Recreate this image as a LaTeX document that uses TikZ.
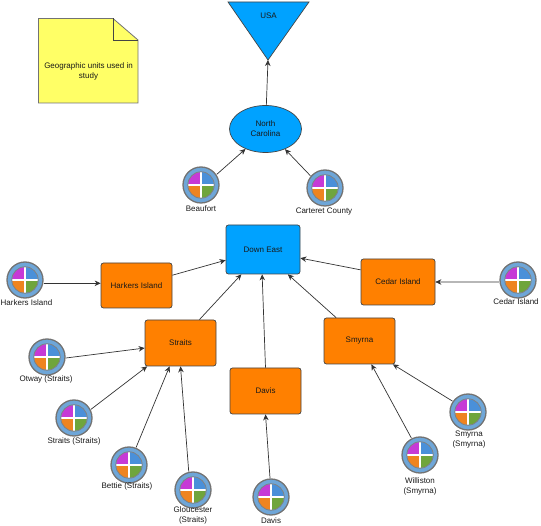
\documentclass[tikz,border=0pt]{standalone}
\usepackage{fontspec}
\setmainfont{Liberation Sans}
\usetikzlibrary{shapes.geometric,arrows.meta}
\definecolor{bluefill}{HTML}{00A2FF}
\definecolor{orangefill}{HTML}{FF8000}
\definecolor{notefill}{HTML}{FFFF66}
\definecolor{edge}{HTML}{444444}
\definecolor{ringblue}{HTML}{6EA6D8}
\definecolor{qmag}{HTML}{C63AD6}
\definecolor{qblue}{HTML}{4A90D9}
\definecolor{qorange}{HTML}{EE8420}
\definecolor{qgreen}{HTML}{6FA53C}
\tikzset{
  x=1pt,y=-1pt,
  every node/.style={font=\fontsize{8}{10}\selectfont,text=black!90,inner sep=0pt,align=center},
  unitbox/.style={draw=edge,line width=0.7pt,fill=orangefill,rounded corners=2.5pt,anchor=center},
  regionshape/.style={draw=edge,line width=0.7pt,fill=bluefill},
  iconring/.style={circle,minimum size=36pt,draw=black!55,line width=1.3pt,fill=ringblue,outer sep=1pt},
  link/.style={draw=black!80,line width=0.7pt,-{Stealth[length=6pt,width=5.5pt]}},
}
\newcommand{\geoicon}[3]{%
  \node[iconring] (#1) at (#2,#3) {};
  \begin{scope}[shift={(#2,#3)}]
    \begin{scope}
      \clip (0,0) circle[radius=13];
      \fill[qmag] (-14,-14) rectangle (0,0);
      \fill[qblue] (0,-14) rectangle (14,0);
      \fill[qorange] (-14,0) rectangle (0,14);
      \fill[qgreen] (0,0) rectangle (14,14);
      \draw[white,line width=1.5pt] (-14,0) -- (14,0) (0,-14) -- (0,14);
    \end{scope}
    \draw[black!50,line width=0.8pt] (0,0) circle[radius=13.2];
  \end{scope}
}
\begin{document}
\begin{tikzpicture}
\useasboundingbox (0,0) rectangle (541,526);
% note
\fill[notefill,draw=black!55,line width=0.8pt] (38.5,18.5) -- (113,18.5) -- (138,40) -- (138,103) -- (38.5,103) -- cycle;
\draw[edge,line width=0.8pt] (113,18.5) -- (113,40) -- (138,40);
\node (note) at (88.5,71) {Geographic units used in\\study};
% USA / NC
\draw[regionshape] (228,2) -- (309,2) -- (268,60) -- cycle;
\coordinate (usatip) at (268,60);
\node (usa) at (268.5,16) {USA};
\node[ellipse,regionshape,minimum width=72pt,minimum height=47pt] (nc) at (265.5,129) {North\\Carolina};
% boxes
\node[unitbox,minimum width=74pt,minimum height=49pt,fill=bluefill] (downeast) at (263,249.5) {Down East};
\node[unitbox,minimum width=71pt,minimum height=45pt] (harkers) at (136.5,285.5) {Harkers Island};
\node[unitbox,minimum width=74pt,minimum height=46pt] (cedar) at (398,282) {Cedar Island};
\node[unitbox,minimum width=71pt,minimum height=46pt] (straits) at (180.5,343) {Straits};
\node[unitbox,minimum width=71pt,minimum height=46pt] (smyrna) at (359.5,341) {Smyrna};
\node[unitbox,minimum width=71pt,minimum height=46pt] (davis) at (265.5,391) {Davis};
% icons
\geoicon{ibeaufort}{201}{185}
\geoicon{icarteret}{325}{188}
\geoicon{iharkers}{25}{280}
\geoicon{iotway}{47}{357}
\geoicon{istraits}{74}{418}
\geoicon{ibettie}{129}{465}
\geoicon{igloucester}{193}{490}
\geoicon{idavis}{271}{497}
\geoicon{iwilliston}{420}{455}
\geoicon{ismyrna}{468}{412}
\geoicon{icedar}{518}{280}
% labels
\node (lbeaufort) at (201,208.5) {Beaufort};
\node (lcarteret) at (324,211.5) {Carteret County};
\node (lharkers) at (26.5,302.5) {Harkers Island};
\node (lotway) at (46,379.5) {Otway (Straits)};
\node (lstraits) at (74,441.5) {Straits (Straits)};
\node (lbettie) at (127,486.5) {Bettie (Straits)};
\node (lgloucester) at (193,515.5) {Gloucester\\(Straits)};
\node (ldavis) at (271,520.5) {Davis};
\node (lwilliston) at (420,486.5) {Williston\\(Smyrna)};
\node (lsmyrna) at (469,439.5) {Smyrna\\(Smyrna)};
\node (lcedar) at (516,301.5) {Cedar Island};
% connectors
\draw[link] (nc.88) -- (usatip);
\draw[link] (ibeaufort.34) -- (nc.225);
\draw[link] (icarteret.140) -- (nc.-46);
\draw[link] (iharkers.-10) -- (harkers.west |- iharkers.-10);
\draw[link] (harkers.16.5) -- (downeast.196);
\draw[link] (cedar.162) -- (downeast.-13);
\draw[link] (icedar.186) -- (cedar.east);
\draw[link] (straits.51) -- (downeast.229);
\draw[link] (davis.90) -- (downeast.268);
\draw[link] (smyrna.135.6) -- (downeast.-45.6);
\draw[link] (iotway.-3) -- (straits.188);
\draw[link] (istraits.27) -- (straits.215);
\draw[link] (ibettie.68) -- (straits.245.5);
\draw[link] (igloucester.103) -- (straits.270);
\draw[link] (idavis.93) -- (davis.-90);
\draw[link] (iwilliston.117) -- (smyrna.-63);
\draw[link] (ismyrna.145) -- (smyrna.-35);
\end{tikzpicture}
\end{document}
